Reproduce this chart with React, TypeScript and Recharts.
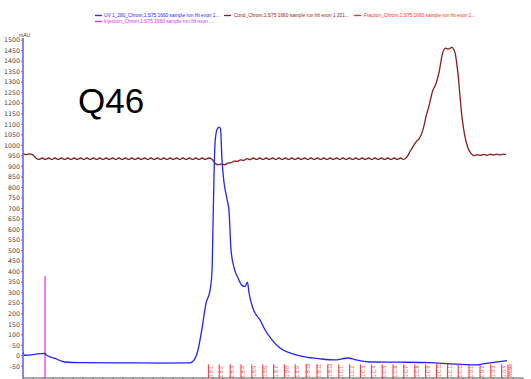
import { ComposedChart, Line, XAxis, YAxis, ReferenceLine, Scatter } from "recharts";

// UV 280 trace, [volume mL, mAU]
const uvPoints: [number, number][] = [
  [0, 18], [0.05, 3], [1.1, 12], [1.15, 5], [1.6, -12], [2.1, -29], [2.85, -32],
  [4.85, -33], [6.85, -34], [8.35, -33], [8.55, -20], [8.75, 28], [8.95, 130],
  [9.15, 250], [9.35, 310], [9.45, 400], [9.5, 620], [9.55, 850], [9.6, 1010],
  [9.7, 1075], [9.8, 1086], [9.875, 1080], [9.95, 930], [10.05, 825], [10.2, 745],
  [10.3, 690], [10.4, 505], [10.55, 420], [10.75, 370], [10.95, 335], [11.1, 330],
  [11.225, 350], [11.3, 300], [11.5, 225], [11.85, 171], [12.1, 124], [12.45, 76],
  [12.85, 38], [13.35, 14], [14.1, -5], [14.85, -14], [15.6, -19], [15.95, -14],
  [16.25, -10], [16.6, -18], [16.95, -25], [17.35, -29], [18.85, -30], [20.35, -32],
  [21.35, -38], [22.6, -43], [23.35, -33], [24.2, -22],
];

// conductivity trace sampled every 0.16 mL (plotted on the mAU scale)
const condStep = 0.16;
const condValues = [
  960, 956, 960, 956, 940,
  933, 940, 933, 940, 933, 940, 933, 940, 933, 940, 933, 940, 933, 940,
  933, 940, 933, 940, 933, 940, 933, 940, 933, 940, 933, 940, 933, 940,
  933, 940, 933, 940, 933, 940, 933, 940, 933, 940, 933, 940, 933, 940,
  933, 940, 933, 940, 933, 940, 933, 940, 933, 940, 933, 940,
  935, 915, 908, 911, 908, 916, 918, 925, 924, 931, 929, 937, 932,
  940, 933, 940, 933, 940, 933, 940, 933, 940, 933, 940, 933,
  940, 933, 940, 933, 940, 933, 940, 933, 940, 933, 940, 933,
  940, 933, 940, 933, 940, 933, 940, 933, 940, 933, 940, 933,
  940, 933, 940, 933, 940, 933, 940, 933, 940, 933, 940, 933,
  945, 972, 998, 1020, 1036, 1075, 1140, 1195, 1258, 1290, 1345, 1430,
  1462, 1458, 1465, 1440, 1330, 1160, 1050, 990, 962, 951, 956, 952,
  957, 953, 958, 954, 958, 955, 958, 956,
];

const injectionVolume = 1.1;
const injectionTop = 380;

const fractionVolumes = [
  9.27, 9.81, 10.36, 10.9, 11.44, 11.99, 12.53, 13.07, 13.61, 14.16, 14.7, 15.24,
  15.79, 16.33, 16.87, 17.42, 17.96, 18.5, 19.04, 19.59, 20.13, 20.67, 21.22,
  21.76, 22.3, 22.85, 23.39, 23.93, 24.25,
];
const fractionLabels = [
  "1.B.1", "1.B.2", "1.B.3", "1.B.4", "1.B.5", "1.B.6", "1.B.7", "1.B.8", "1.B.9",
  "1.B.10", "1.B.11", "1.B.12", "1.C.1", "1.C.2", "1.C.3", "1.C.4", "1.C.5",
  "1.C.6", "1.C.7", "1.C.8", "1.C.9", "1.C.10", "1.C.11", "1.C.12", "1.D.1",
  "1.D.2", "1.D.3", "1.D.4", "Waste",
];
const fractionTop = -40;
const yMin = -105;

const yTicks = [
  -50, 0, 50, 100, 150, 200, 250, 300, 350, 400, 450, 500, 550, 600, 650, 700, 750,
  800, 850, 900, 950, 1000, 1050, 1100, 1150, 1200, 1250, 1300, 1350, 1400, 1450, 1500,
];
const xTicks = [
  0, 0.5, 1, 1.5, 2, 2.5, 3, 3.5, 4, 4.5, 5, 5.5, 6, 6.5, 7, 7.5, 8, 8.5, 9, 9.5, 10,
  10.5, 11, 11.5, 12, 12.5, 13, 13.5, 14, 14.5, 15, 15.5, 16, 16.5, 17, 17.5, 18,
  18.5, 19, 19.5, 20, 20.5, 21, 21.5, 22, 22.5, 23, 23.5, 24, 24.5, 25,
];

const uvName = "UV 1_280_Chrom.1:S75 1660 sample run hlt exon 1...";
const condName = "Cond_Chrom.1:S75 1660 sample run hlt exon 1 201...";
const fracName = "Fraction_Chrom.1:S75 1660 sample run hlt exon 1...";
const injName = "Injection_Chrom.1:S75 1660 sample run hlt exon ...";

const BLUE = "#2323ff";
const BROWN = "#8b1c1c";
const RED = "#ff2a2a";
const MAGENTA = "#e52ae5";

const uvData = uvPoints.map(([x, y]) => ({ x, y }));
const condData = condValues.map((y, i) => ({ x: i * condStep, y }));
const injData = [
  { x: injectionVolume, y: yMin },
  { x: injectionVolume, y: injectionTop },
];
const fracLabelData = fractionVolumes.map((x, i) => ({ x, y: yMin + 3, label: fractionLabels[i] }));

const FracLabel = (props: any) => {
  const { cx, cy, payload } = props;
  const tx = cx + 4.2;
  return (
    <text
      x={tx}
      y={cy}
      transform={`rotate(-90 ${tx} ${cy})`}
      fontSize={4.8}
      fontFamily="Liberation Sans, Arial, sans-serif"
      fill="#ff3a3a"
    >
      {payload.label}
    </text>
  );
};

const legendFont = "Liberation Sans, Arial, sans-serif";

export default function App() {
  return (
    <div
      style={{
        position: "absolute",
        left: 0,
        top: 0,
        width: 531,
        height: 379,
        overflow: "hidden",
        background: "#fff",
      }}
    >
      <ComposedChart
        width={531}
        height={400}
        margin={{ top: 38, right: 8, bottom: 0, left: 0 }}
      >
        <XAxis
          type="number"
          dataKey="x"
          domain={[0, 25]}
          ticks={xTicks}
          interval={0}
          tickSize={3}
          height={22}
          axisLine={{ stroke: "#555" }}
          tickLine={{ stroke: "#555" }}
          tick={{ fontSize: 6, fill: "#444" }}
          allowDataOverflow
        />
        <YAxis
          type="number"
          dataKey="y"
          domain={[yMin, 1510]}
          ticks={yTicks}
          interval={0}
          width={23}
          tickSize={2}
          tickMargin={1}
          axisLine={{ stroke: "#5a5aff", strokeWidth: 1.5 }}
          tickLine={{ stroke: "#777" }}
          tick={{ fontSize: 6.3, fill: "#444", fontFamily: "DejaVu Sans, sans-serif" }}
          allowDataOverflow
        />
        {fractionVolumes.map((f, i) => (
          <ReferenceLine
            key={i}
            segment={[
              { x: f, y: yMin },
              { x: f, y: fractionTop },
            ]}
            stroke={RED}
            strokeWidth={1}
            ifOverflow="visible"
          />
        ))}
        <Scatter
          data={fracLabelData}
          dataKey="y"
          shape={FracLabel}
          isAnimationActive={false}
        />
        <Line
          data={injData}
          dataKey="y"
          type="linear"
          stroke={MAGENTA}
          strokeWidth={1.2}
          dot={false}
          isAnimationActive={false}
        />
        <Line
          data={condData}
          dataKey="y"
          type="monotone"
          stroke={BROWN}
          strokeWidth={1.3}
          dot={false}
          isAnimationActive={false}
        />
        <Line
          data={uvData}
          dataKey="y"
          type="monotone"
          stroke={BLUE}
          strokeWidth={1.3}
          dot={false}
          isAnimationActive={false}
        />
      </ComposedChart>
      <svg
        width={531}
        height={379}
        style={{ position: "absolute", left: 0, top: 0, pointerEvents: "none" }}
      >
        <g fontFamily={legendFont} fontSize={4.8}>
          <line x1={95} x2={102} y1={15.5} y2={15.5} stroke={BLUE} strokeWidth={1.3} />
          <text x={104} y={17.3} fill={BLUE}>{uvName}</text>
          <line x1={224} x2={231} y1={15.5} y2={15.5} stroke={BROWN} strokeWidth={1.3} />
          <text x={234} y={17.3} fill={BROWN}>{condName}</text>
          <line x1={354} x2={361} y1={15.5} y2={15.5} stroke={RED} strokeWidth={1.3} />
          <text x={364} y={17.3} fill={RED}>{fracName}</text>
          <line x1={95} x2={102} y1={21.5} y2={21.5} stroke={MAGENTA} strokeWidth={1.3} />
          <text x={104} y={23.3} fill={MAGENTA}>{injName}</text>
        </g>
        <text x={19} y={36.5} fontSize={5} fill="#333" fontFamily={legendFont}>mAU</text>
        <text x={78} y={113} fontSize={35} fill="#000" fontFamily={legendFont}>Q46</text>
      </svg>
    </div>
  );
}
